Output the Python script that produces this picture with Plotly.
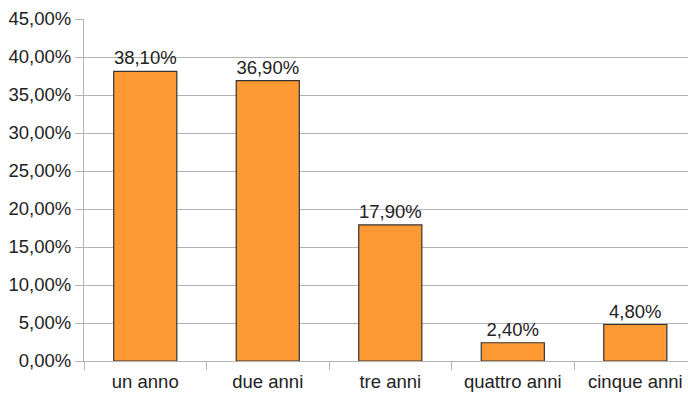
import plotly.graph_objects as go

categories = ["un anno", "due anni", "tre anni", "quattro anni", "cinque anni"]
values = [0.381, 0.369, 0.179, 0.024, 0.048]
y_ticks = [i * 0.05 for i in range(10)]

fig = go.Figure(go.Bar(
    x=categories, y=values,
    marker=dict(color="#ff9933", line=dict(color="#333333", width=1.2)),
    text=values, texttemplate="%{y:.2%}", textposition="outside",
    textfont=dict(size=18.5, color="#222222"), cliponaxis=False,
))

fig.update_layout(
    width=688, height=393,
    margin=dict(l=84, r=0, t=19, b=32),
    plot_bgcolor="white", paper_bgcolor="white",
    separators=",.",
    font=dict(family="Liberation Sans, Arial, sans-serif", size=18.5, color="#222222"),
    bargap=0.485,
    showlegend=False,
)
fig.update_xaxes(
    range=[-0.5, 4.43], tickson="boundaries", ticks="outside", ticklen=8,
    tickcolor="#b3b3b3", showline=True, linecolor="#b3b3b3", linewidth=1,
    showgrid=False, tickfont=dict(size=18.5), ticklabelstandoff=4,
)
fig.update_yaxes(
    range=[0, 0.45], tickvals=y_ticks, tickformat=".2%", ticks="outside",
    ticklen=8, tickcolor="#b3b3b3", showline=True, linecolor="#b3b3b3",
    gridcolor="#b3b3b3", gridwidth=1, zeroline=False, tickfont=dict(size=18.5),
)

fig.write_html("out.html")
